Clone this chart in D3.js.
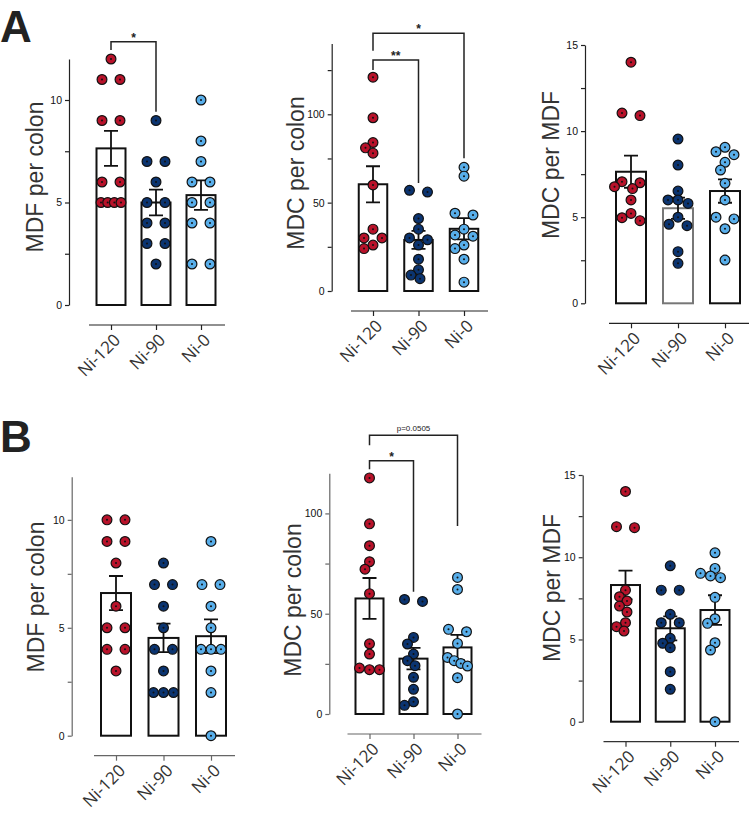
<!DOCTYPE html>
<html><head><meta charset="utf-8">
<script src="https://cdn.jsdelivr.net/npm/d3@7"></script>
<style>body{margin:0;background:#fff} svg{display:block}</style>
</head><body>
<svg id="c" width="750" height="816"></svg>
<script>
// ---------- DATA ----------
const groups = ["Ni-120", "Ni-90", "Ni-0"];
const groupColors = ["#B8122A", "#0B3470", "#58AEEA"];

// A – MDF per colon
const a1Values = [[12,11,11,9,9,6,6,5,5,5,5],[9,7,7,6,5,5,4,4,3,3,2],[10,8,7,6,6,5,5,4,4,2,2]];
const a1Means = [7.64, 5.0, 5.36];
const a1Sem = [0.85, 0.63, 0.72];
const a1Ticks = [0, 5, 10];
const a1Minor = [2.5, 7.5];
const a1Brackets = [{from:0, to:1, text:"*", top:12.84, left:12.44, right:9.43}];

// A – MDC per colon
const a2Values = [[121,98,84,81,78,60,35,30,30,26,24],[57,56,41,35,30,29,26,18,12,9,7],[70,65,44,43,35,31.7,31,26,24,18,5]];
const a2Means = [60.4, 28.9, 35.2];
const a2Sem = [10.2, 5.1, 6.0];
const a2Ticks = [0, 50, 100];
const a2Minor = [25, 75, 125];
const a2Brackets = [{from:0, to:2, text:"*", top:145.8, left:136, right:75.1},
                    {from:0, to:1, text:"**", top:130.7, left:125, right:61.1}];

// A – MDC per MDF
const a3Values = [[14,11.05,10.9,7.06,7.0,6.77,6.66,6.0,5.22,4.97,4.8],[9.54,8.03,6.52,6.0,6.0,5.8,5.0,4.59,4.51,3.0,2.32],[9.06,8.8,8.63,8.19,7.74,6.97,6.0,5.0,4.9,4.33,2.51]];
const a3Means = [7.64, 5.52, 6.52];
const a3Sem = [0.93, 0.62, 0.68];
const a3Ticks = [0, 5, 10, 15];
const a3Minor = [2.5, 7.5, 12.5];

// B – MDF per colon
const b1Values = [[10,10,9,9,8,6,5,5,4,4,3],[8,7,7,6,5,4,4,3,2,2,2],[9,7,7,6,5,4,4,4,3,2,0]];
const b1Means = [6.61, 4.53, 4.61];
const b1Sem = [0.79, 0.66, 0.78];
const b1Ticks = [0, 5, 10];
const b1Minor = [2.5, 7.5];

// B – MDC per colon
const b2Values = [[117.7,94.8,83.9,75.9,72.2,60,35,29.9,22.9,22.1,22.1],[57.1,56.1,38.2,34.9,29.9,26.6,24.1,18.3,12.3,6.1,4.3],[68.1,62.1,42.2,41,35.2,28.2,26.6,25.2,23.9,18.1,0]];
const b2Means = [57.6, 27.6, 33.2];
const b2Sem = [10.2, 5.4, 6.2];
const b2Ticks = [0, 50, 100];
const b2Minor = [25, 75];
const b2Brackets = [{from:0, to:2, text:"p=0.0505", top:139, left:134, right:93.7},
                    {from:0, to:1, text:"*", top:126.2, left:122, right:61}];

// B – MDC per MDF
const b3Values = [[14,11.86,11.8,8.0,7.6,7.34,7.03,6.67,6.02,5.78,5.51],[9.48,8,8,6.53,6.02,6.02,5.07,4.77,4.5,3.04,1.97],[10.27,9.32,9.02,8.86,8.76,7.56,6.26,5.98,4.8,4.36,0]];
const b3Means = [8.31, 5.68, 6.79];
const b3Sem = [0.87, 0.73, 0.9];
const b3Ticks = [0, 5, 10, 15];
const b3Minor = [2.5, 7.5, 12.5];

// ---------- LAYOUT ----------
const panels = [
  {values:a1Values, means:a1Means, sem:a1Sem, ticks:a1Ticks, minor:a1Minor, brackets:a1Brackets,
   L:{axisX:69, y0:305, yTop:59, max:12, x0:111, x2:201, barW:29, label:"MDF per colon", lx:35, ly:177, axisColor:"#222"}},
  {values:a2Values, means:a2Means, sem:a2Sem, ticks:a2Ticks, minor:a2Minor, brackets:a2Brackets,
   L:{axisX:331.7, y0:291, yTop:43.6, max:140, x0:373, x2:464, barW:28.5, label:"MDC per colon", lx:296, ly:173, axisColor:"#222"}},
  {values:a3Values, means:a3Means, sem:a3Sem, ticks:a3Ticks, minor:a3Minor, brackets:[],
   L:{axisX:585, y0:303.3, yTop:45, max:15, x0:631, x2:725, barW:30, label:"MDC per MDF", lx:551, ly:165, axisColor:"#222", grayBar:1}},
  {values:b1Values, means:b1Means, sem:b1Sem, ticks:b1Ticks, minor:b1Minor, brackets:[],
   L:{axisX:71.7, y0:735.7, yTop:476.7, max:12, x0:116, x2:211, barW:30, label:"MDF per colon", lx:36, ly:597, axisColor:"#666"}},
  {values:b2Values, means:b2Means, sem:b2Sem, ticks:b2Ticks, minor:b2Minor, brackets:b2Brackets,
   L:{axisX:329.3, y0:714, yTop:473.3, max:120, x0:369.5, x2:457.5, barW:28, label:"MDC per colon", lx:293, ly:600, axisColor:"#666"}},
  {values:b3Values, means:b3Means, sem:b3Sem, ticks:b3Ticks, minor:b3Minor, brackets:[],
   L:{axisX:582.7, y0:721.7, yTop:475, max:15, x0:625.5, x2:715, barW:29, label:"MDC per MDF", lx:552, ly:588, axisColor:"#333"}}
];

const svg = d3.select("#c");
const FONT = "'Liberation Sans', Arial, sans-serif";

// beeswarm-like placement (deterministic)
function swarm(vals, y){
  const sorted = vals.slice().sort((a,b)=>b-a);
  const rows = [];
  sorted.forEach(v=>{
    const last = rows[rows.length-1];
    if(last && Math.abs(y(last[last.length-1]) - y(v)) < 3.5) last.push(v);
    else rows.push([v]);
  });
  const placed = [];
  const minD = 8.5;
  rows.forEach(row=>{
    const n = row.length;
    const s = n>1 ? Math.min(18, 20/(n-1)) : 0;
    const offs = row.map((_,i)=>(i-(n-1)/2)*s);
    let best = 0;
    for(let k=0;k<40;k++){
      const sh = k===0 ? 0 : (k%2 ? -1 : 1)*Math.ceil(k/2)*1.5;
      const ok = row.every((v,i)=>placed.every(p=>Math.hypot(p.dx-(offs[i]+sh), p.py-y(v))>=minD));
      if(ok){best=sh;break;}
    }
    row.forEach((v,i)=>placed.push({v, dx:offs[i]+best, py:y(v)}));
  });
  return placed;
}

panels.forEach(P=>{
  const L = P.L;
  const g = svg.append("g");
  const y = d3.scaleLinear().domain([0, L.max]).range([L.y0, L.yTop]);
  const x = d3.scalePoint().domain(groups).range([L.x0, L.x2]);

  // y axis
  const yAx = g.append("g").attr("transform",`translate(${L.axisX},0)`)
    .call(d3.axisLeft(y).tickValues(P.ticks).tickSize(4).tickSizeOuter(0).tickPadding(3).tickFormat(d3.format("d")));
  yAx.select(".domain").attr("stroke", L.axisColor).attr("stroke-width",1.2);
  yAx.selectAll(".tick line").attr("stroke", L.axisColor).attr("stroke-width",1.2);
  yAx.selectAll("text").attr("fill","#111").style("font-family",FONT).style("font-size","10.5px");
  const yMin = g.append("g").attr("transform",`translate(${L.axisX},0)`)
    .call(d3.axisLeft(y).tickValues(P.minor).tickSize(4).tickSizeOuter(0).tickFormat(""));
  yMin.select(".domain").remove();
  yMin.selectAll(".tick line").attr("stroke", L.axisColor).attr("stroke-width",1.2);

  // y label
  g.append("text").attr("transform",`translate(${L.lx},${L.ly}) rotate(-90)`)
    .attr("text-anchor","middle").attr("dominant-baseline","central")
    .style("font-family",FONT).style("font-size","23px").attr("fill","#333").text(L.label);

  // x axis
  const xLineY = L.y0 + 20;
  const xAx = g.append("g").attr("transform",`translate(0,${xLineY})`)
    .call(d3.axisBottom(x).tickSize(5).tickSizeOuter(0));
  xAx.select(".domain").attr("d",`M${L.x0-22},0H${L.x2+24}`).attr("stroke",L.axisColor).attr("stroke-width",1.2);
  xAx.selectAll(".tick line").attr("stroke",L.axisColor).attr("stroke-width",1.2);
  xAx.selectAll("text").attr("x",0).attr("y",0).attr("dy",0)
    .attr("transform","translate(10,16) rotate(-45)").style("text-anchor","end")
    .style("font-family","'Open Sans', sans-serif").style("font-size","17px").attr("fill","#333");

  // bars
  g.selectAll("rect.bar").data(groups).join("rect").attr("class","bar")
    .attr("x", d=>x(d)-L.barW/2).attr("width", L.barW)
    .attr("y", (d,i)=>y(P.means[i])).attr("height",(d,i)=>y(0)-y(P.means[i]))
    .attr("fill","#fff").attr("stroke",(d,i)=> (L.grayBar===i ? "#777" : "#111")).attr("stroke-width",2);

  // error bars
  groups.forEach((gr,i)=>{
    const cx = x(gr), hi = y(P.means[i]+P.sem[i]), lo = y(P.means[i]-P.sem[i]);
    g.append("path").attr("d",`M${cx},${hi}V${lo}M${cx-7},${hi}H${cx+7}M${cx-7},${lo}H${cx+7}`)
      .attr("stroke","#111").attr("stroke-width",1.8).attr("fill","none");
  });

  // points
  groups.forEach((gr,i)=>{
    const pts = swarm(P.values[i], y);
    const pg = g.append("g");
    pg.selectAll("circle.pt").data(pts).join("circle").attr("class","pt")
      .attr("cx", d=>x(gr)+d.dx).attr("cy", d=>y(d.v)).attr("r",4.9)
      .attr("fill", groupColors[i]).attr("stroke","#111").attr("stroke-width",1.2);
    pg.selectAll("circle.dot").data(pts).join("circle").attr("class","dot")
      .attr("cx", d=>x(gr)+d.dx).attr("cy", d=>y(d.v)).attr("r",1).attr("fill","#111");
  });

  // significance brackets
  P.brackets.forEach(b=>{
    const xa = x(groups[b.from]), xb = x(groups[b.to]);
    g.append("path").attr("d",`M${xa},${y(b.left)}V${y(b.top)}H${xb}V${y(b.right)}`)
      .attr("stroke","#222").attr("stroke-width",1.5).attr("fill","none");
    const small = b.text.length > 3;
    g.append("text").attr("x",(xa+xb)/2).attr("y", y(b.top) - (small ? 4 : 0))
      .attr("text-anchor","middle").style("font-family",FONT)
      .style("font-size", small ? "8px" : "12px").style("font-weight", small ? "normal" : "bold")
      .attr("fill","#222").text(b.text);
  });
});

// panel letters
svg.append("text").attr("x",0).attr("y",42).style("font-family",FONT).style("font-weight","bold")
  .style("font-size","44px").attr("fill","#222").text("A");
svg.append("text").attr("x",0).attr("y",452).style("font-family",FONT).style("font-weight","bold")
  .style("font-size","44px").attr("fill","#222").text("B");
</script>
</body></html>
